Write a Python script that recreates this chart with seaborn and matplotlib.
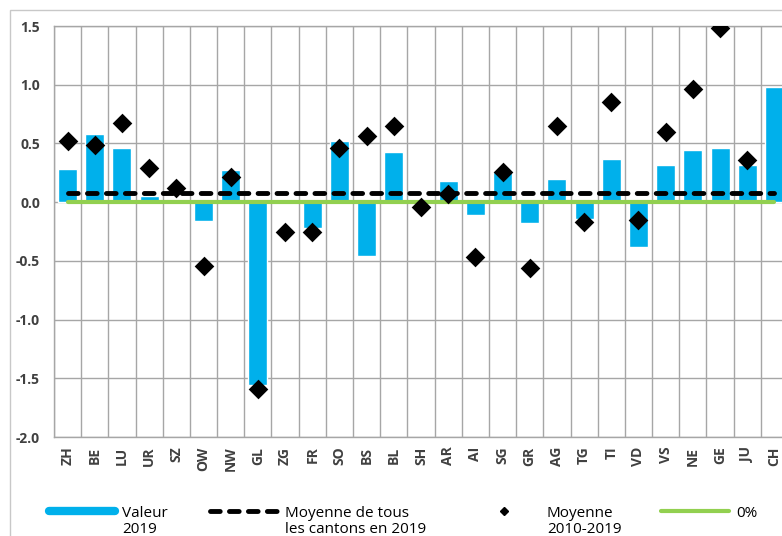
import numpy as np
import matplotlib
matplotlib.use("Agg")
import matplotlib.pyplot as plt
from matplotlib.lines import Line2D
from matplotlib.patches import Rectangle
import seaborn as sns

cantons = ["ZH", "BE", "LU", "UR", "SZ", "OW", "NW", "GL", "ZG", "FR", "SO", "BS", "BL",
           "SH", "AR", "AI", "SG", "GR", "AG", "TG", "TI", "VD", "VS", "NE", "GE", "JU", "CH"]
valeur_2019 = [0.28, 0.58, 0.46, 0.05, 0.03, -0.16, 0.27, -1.56, 0.0, -0.22, 0.52, -0.46, 0.43,
               0.0, 0.18, -0.11, 0.26, -0.18, 0.20, -0.14, 0.37, -0.38, 0.32, 0.44, 0.46, 0.32, 0.98]
moyenne_2010_2019 = [0.52, 0.49, 0.67, 0.29, 0.12, -0.54, 0.21, -1.59, -0.25, -0.25, 0.46, 0.56, 0.65,
                     -0.04, 0.07, -0.47, 0.26, -0.56, 0.65, -0.17, 0.85, -0.15, 0.60, 0.96, 1.48, 0.36, np.nan]
moyenne_cantons_2019 = 0.08
y_ticks = [-2.0, -1.5, -1.0, -0.5, 0.0, 0.5, 1.0, 1.5]

blue = "#00B0EB"
green = "#92D050"
grid_col = "#A6A6A6"
text_col = "#404040"

sns.set_style("white")
plt.rcParams["font.family"] = ["Open Sans", "DejaVu Sans"]

fig = plt.figure(figsize=(7.82, 5.36), dpi=100)
ax = fig.add_axes([54 / 782, 1 - 437 / 536, 734 / 782, 411 / 536])

sns.barplot(x=cantons, y=valeur_2019, order=cantons, color=blue, saturation=1,
            width=0.7, ax=ax, zorder=2)
ax.hlines(0, 0, len(cantons) - 1, color=green, lw=3, zorder=3, capstyle="round")
ax.hlines(moyenne_cantons_2019, 0, len(cantons) - 1, color="black", lw=3.5,
          linestyles=(0, (2.0, 1.9)), zorder=4, capstyle="round")
sns.stripplot(x=cantons, y=moyenne_2010_2019, order=cantons, jitter=False, marker="D",
              size=10, color="black", linewidth=0, ax=ax, zorder=5)

ax.set_xlim(-0.5, len(cantons) - 0.5)
ax.set_ylim(-2.0, 1.5)
ax.set_yticks(y_ticks)
ax.set_yticklabels([f"{v:.1f}" for v in y_ticks], fontweight="bold", fontsize=10, color=text_col)
ax.set_xticks(np.arange(len(cantons)))
ax.set_xticklabels(cantons, fontweight="bold", fontsize=10, color=text_col, rotation=90)
ax.set_xticks(np.arange(-0.5, len(cantons)), minor=True)
ax.grid(True, which="major", axis="y", color=grid_col, lw=1, zorder=0)
ax.grid(True, which="minor", axis="x", color=grid_col, lw=1, zorder=0)
ax.grid(False, which="major", axis="x")
ax.set_axisbelow(True)
ax.tick_params(axis="both", which="both", length=0)
ax.tick_params(axis="y", pad=10)
ax.tick_params(axis="x", pad=7)
ax.set_xlabel("")
ax.set_ylabel("")
for s in ax.spines.values():
    s.set_color(grid_col)
    s.set_linewidth(1)

# outer frame
fig.add_artist(Rectangle((10 / 782, -0.1), 1.0, 1 - 10 / 536 + 0.1, transform=fig.transFigure,
                         fill=False, edgecolor="#C8C8C8", lw=1))

# legend
def fy(px):
    return 1 - px / 536

hy = fy(510.5)
fig.add_artist(Line2D([49 / 782, 115 / 782], [hy, hy], color=blue, lw=6, transform=fig.transFigure))
fig.add_artist(Line2D([210 / 782, 278 / 782], [hy, hy], color="black", lw=3.5,
                      linestyle=(0, (2.0, 1.9)), solid_capstyle="round", dash_capstyle="round",
                      transform=fig.transFigure))
fig.add_artist(Line2D([504 / 782], [hy], color="black", marker="D", markersize=4, lw=0,
                      transform=fig.transFigure))
fig.add_artist(Line2D([661 / 782, 729 / 782], [hy, hy], color=green, lw=3,
                      solid_capstyle="round", transform=fig.transFigure))

legend_text = [(122, "Valeur", "2019"),
               (285, "Moyenne de tous", "les cantons en 2019"),
               (547, "Moyenne", "2010-2019"),
               (736, "0%", "")]
for x, l1, l2 in legend_text:
    fig.text(x / 782, fy(517), l1, fontsize=11, color="black", va="baseline")
    if l2:
        fig.text(x / 782, fy(533), l2, fontsize=11, color="black", va="baseline")

fig.savefig("out.png", dpi=100)
